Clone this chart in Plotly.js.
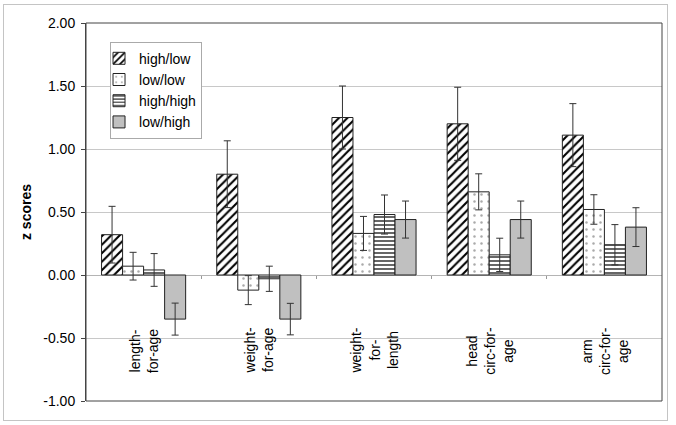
<!DOCTYPE html>
<html>
<head>
<meta charset="utf-8">
<script src="https://cdn.plot.ly/plotly-3.0.1.min.js"></script>
<style>
html,body{margin:0;padding:0;background:#fff;}
#wrap{position:relative;width:676px;height:425px;}
#chart{width:676px;height:425px;}
#frame{position:absolute;left:3px;top:4px;width:665px;height:417px;border:1px solid #c4c4c4;box-sizing:border-box;pointer-events:none;}
</style>
</head>
<body>
<div id="wrap"><div id="chart"></div><div id="frame"></div></div>
<script>
// ---- data ----
var categories = ["length-<br>for-age", "weight-<br>for-age", "weight-<br>for-<br>length", "head<br>circ-for-<br>age", "arm<br>circ-for-<br>age"];
var seriesNames = ["high/low", "low/low", "high/high", "low/high"];
var highLow     = [0.32, 0.80, 1.25, 1.20, 1.11];
var highLowErr  = [0.225, 0.265, 0.25, 0.29, 0.25];
var lowLow      = [0.07, -0.12, 0.33, 0.66, 0.52];
var lowLowErr   = [0.11, 0.115, 0.135, 0.143, 0.117];
var highHigh    = [0.04, -0.03, 0.48, 0.16, 0.24];
var highHighErr = [0.13, 0.10, 0.155, 0.132, 0.16];
var lowHigh     = [-0.35, -0.35, 0.44, 0.44, 0.38];
var lowHighErr  = [0.127, 0.125, 0.147, 0.147, 0.154];
var yTickVals   = [-1, -0.5, 0, 0.5, 1, 1.5, 2];
var yTickText   = ["-1.00", "-0.50", "0.00", "0.50", "1.00", "1.50", "2.00"];

var FONT = "Arial, 'Liberation Sans', sans-serif";
var catIdx = categories.map(function(_, i){ return i; });

function errBar(arr){
  return {type:'data', array:arr, visible:true, color:'#333', thickness:1, width:3.5};
}
var outline = {color:'#222', width:1};

var traces = [
  {type:'bar', name:seriesNames[0], x:catIdx, y:highLow, error_y:errBar(highLowErr),
   marker:{color:'#ffffff', line:outline, pattern:{shape:'/', fgcolor:'#000', bgcolor:'#fff', size:6, solidity:0.35}}},
  {type:'bar', name:seriesNames[1], x:catIdx, y:lowLow, error_y:errBar(lowLowErr),
   marker:{color:'#ffffff', line:outline, pattern:{shape:'.', fgcolor:'#aaa', bgcolor:'#fff', size:7, solidity:0.1}}},
  {type:'bar', name:seriesNames[2], x:catIdx, y:highHigh, error_y:errBar(highHighErr),
   marker:{color:'#ffffff', line:outline, pattern:{shape:'-', fgcolor:'#000', bgcolor:'#fff', size:4, solidity:0.3}}},
  {type:'bar', name:seriesNames[3], x:catIdx, y:lowHigh, error_y:errBar(lowHighErr),
   marker:{color:'#c0c0c0', line:outline}}
];

var annotations = categories.map(function(c, i){
  return {x:i, y:-0.6, xref:'x', yref:'y', text:c, textangle:-90, showarrow:false,
          align:'center', font:{family:FONT, size:14, color:'#000'}};
});

var layout = {
  width:676, height:425,
  margin:{l:86, r:14, t:23, b:24},
  paper_bgcolor:'#fff', plot_bgcolor:'#fff',
  font:{family:FONT, size:14, color:'#000'},
  barmode:'group', bargap:0.27, bargroupgap:0,
  showlegend:true,
  legend:{x:0.0417, y:0.9505, xanchor:'left', yanchor:'top', bgcolor:'#fff', indentation:-12,
          bordercolor:'#aaa', borderwidth:1, font:{family:FONT, size:14, color:'#000'}},
  xaxis:{type:'linear', range:[-0.5, 4.5], anchor:'free', position:1/3,
         showticklabels:false, tickvals:[0.5,1.5,2.5,3.5], ticks:'outside', ticklen:3,
         tickcolor:'#999', showgrid:false, zeroline:false, showline:false},
  yaxis:{range:[-1, 2], tickvals:yTickVals, ticktext:yTickText, showgrid:true, gridcolor:'#c8c8c8',
         zeroline:true, zerolinecolor:'#b4b4b4', zerolinewidth:1,
         showline:true, linecolor:'#444', ticks:'outside', ticklen:4, tickcolor:'#444',
         ticklabelstandoff:3,
         tickfont:{family:FONT, size:14, color:'#000'},
         title:{text:'<b>z scores</b>', font:{family:FONT, size:14, color:'#000'}, standoff:8}},
  shapes:[{type:'rect', xref:'paper', yref:'paper', x0:0, x1:1, y0:0, y1:1, line:{color:'#444', width:1}, fillcolor:'rgba(0,0,0,0)', layer:'above'}],
  annotations:annotations
};

Plotly.newPlot('chart', traces, layout, {displayModeBar:false, staticPlot:true});
</script>
</body>
</html>
